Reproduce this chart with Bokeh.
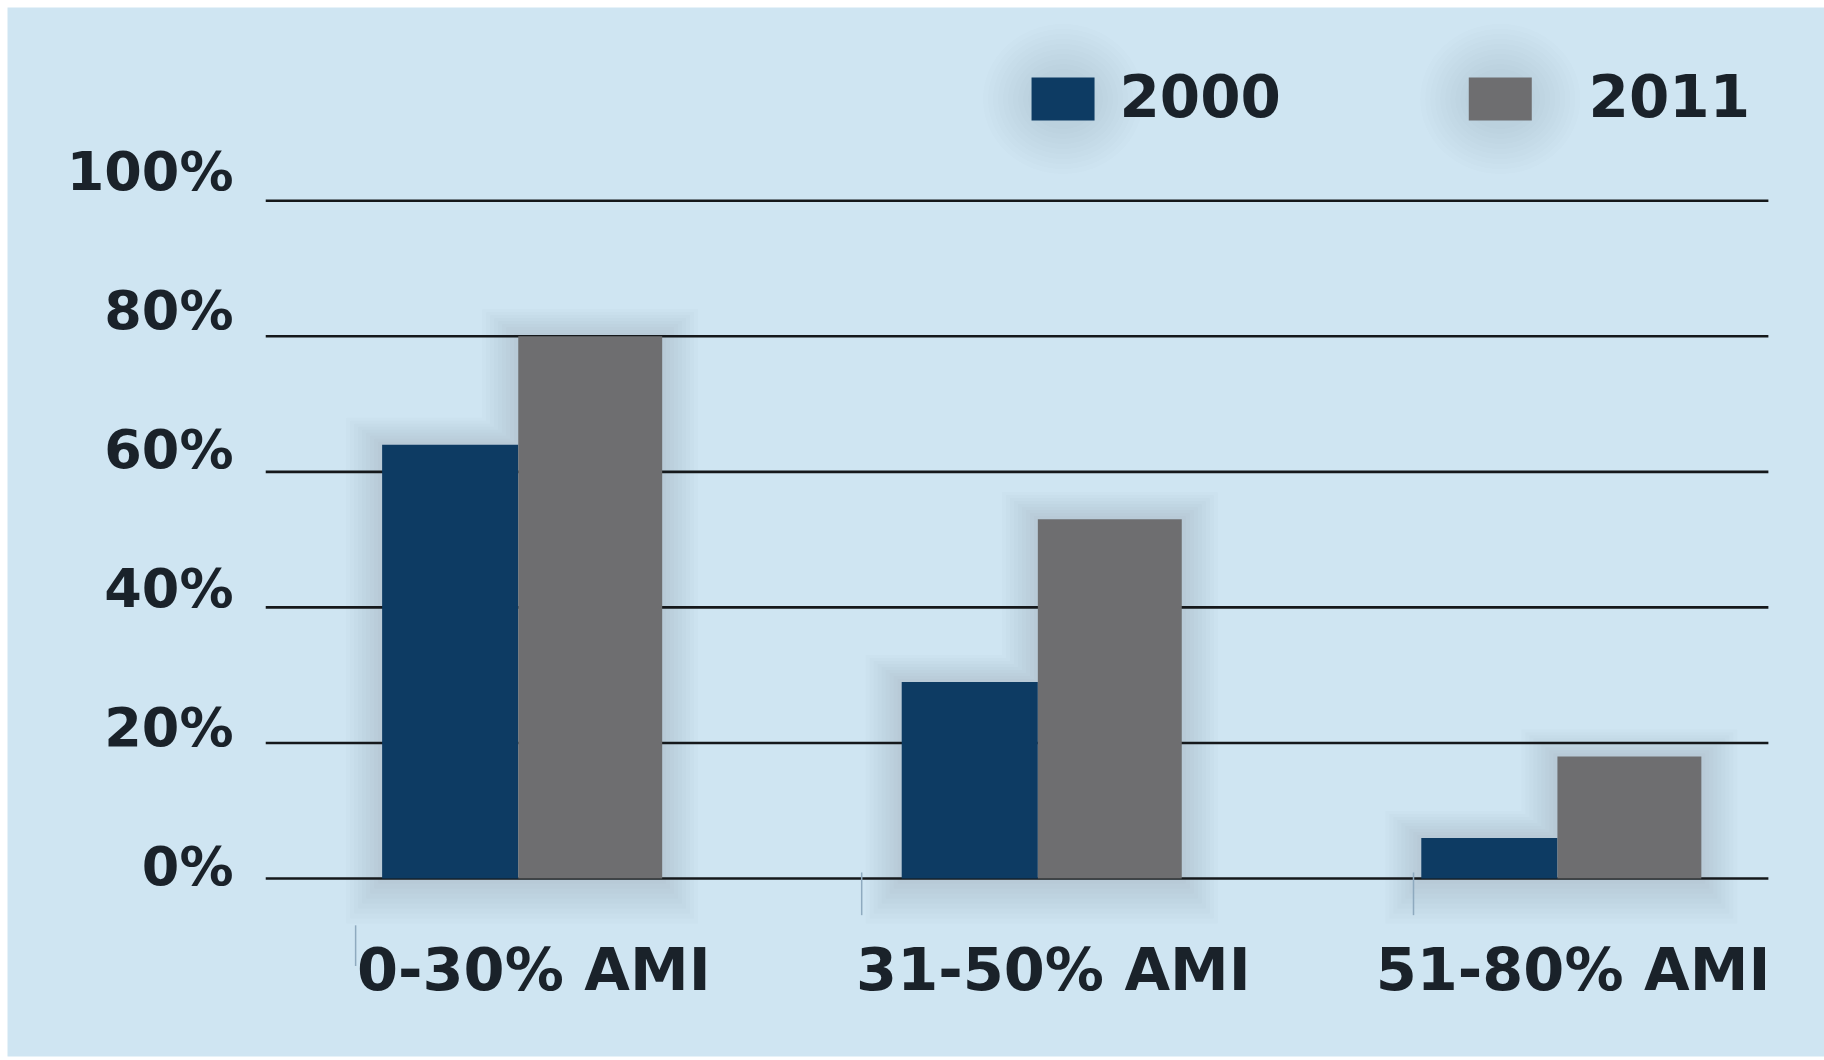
from bokeh.plotting import figure
from bokeh.models import Range1d
from bokeh.core.properties import value
from bokeh.embed import file_html
from bokeh.resources import INLINE

# ---- data ----
categories = ["0-30% AMI", "31-50% AMI", "51-80% AMI"]
share_2000 = [64, 29, 6]
share_2011 = [80, 53, 18]
series_names = ["2000", "2011"]
y_ticks = [0, 20, 40, 60, 80, 100]
y_tick_labels = ["0%", "20%", "40%", "60%", "80%", "100%"]

# ---- styling ----
BG = "#cfe5f2"
BLUE = "#0d3b63"
GRAY = "#6e6e70"
INK = "#1a222a"
FONT = value("DejaVu Sans")
SHADOW = "#46535e"

W, H = 1824, 1060
X0, X1 = -0.983, 2.514
Y0, Y1 = -26.25, 128.5
BL, BT, BR, BB = 7, 7, 0, 4
px_x = (X1 - X0) / (W - BL - BR)   # data units per pixel, x
px_y = (Y1 - Y0) / (H - BT - BB)   # data units per pixel, y

p = figure(width=W, height=H, x_range=Range1d(X0, X1), y_range=Range1d(Y0, Y1),
           output_backend="svg", toolbar_location=None,
           min_border_left=BL, min_border_top=BT, min_border_right=BR, min_border_bottom=BB,
           background_fill_color=BG, border_fill_color="white", outline_line_color=None)
p.axis.visible = False
p.grid.visible = False

idx = list(range(len(categories)))
w_a, w_b = 0.262, 0.277

# soft drop shadow hugging the stepped outline of each bar pair
for k in range(1, 10):
    dx, dt, db = k * 4 * px_x, k * 3 * px_y, k * 5 * px_y
    xs, ys = [], []
    for i in idx:
        l, s, r = i - w_a, i, i + w_b
        a, b = share_2000[i], share_2011[i]
        xs.append([l - dx, l - dx, s - dx, s - dx, r + dx, r + dx])
        ys.append([-db, a + dt, a + dt, b + dt, b + dt, -db])
    p.patches(xs=xs, ys=ys, fill_color=SHADOW, fill_alpha=0.014, line_color=None)

# horizontal rules
p.segment(x0=[-0.486] * len(y_ticks), x1=[2.406] * len(y_ticks), y0=y_ticks, y1=y_ticks,
          line_color="#15181b", line_width=2.6)

# bars
p.vbar(x=[i - w_a / 2 for i in idx], top=share_2000, width=w_a, bottom=0,
       fill_color=BLUE, line_color=None)
p.vbar(x=[i + w_b / 2 for i in idx], top=share_2011, width=w_b, bottom=0,
       fill_color=GRAY, line_color=None)

# faint category ticks below the baseline
tick_x = [-0.313, 0.661, 1.723]
tick_y0 = [-6.9, 0.9, 0.9]
tick_y1 = [-12.9, -5.4, -5.4]
p.segment(x0=tick_x, x1=tick_x, y0=tick_y0, y1=tick_y1, line_color="#8eaabf", line_width=1.5)

# y tick labels, sitting above their rules
p.text(x=[-0.548] * len(y_ticks), y=y_ticks, text=y_tick_labels,
       y_offset=[-(12.5 + 0.17 * t) for t in y_ticks],
       text_align="right", text_baseline="middle", text_font=FONT, text_font_style="bold",
       text_font_size="54px", text_color=INK)

# category labels
p.text(x=[i + 0.03 for i in idx], y=[0] * 3, text=categories, y_offset=91,
       text_align="center", text_baseline="middle", text_font=FONT, text_font_style="bold",
       text_font_size="59px", text_color=INK)

# legend
leg_y = 115
leg_sq_x = [1.0485, 1.890]
leg_txt_x = [1.157, 2.060]
for k in range(1, 11):
    p.ellipse(x=leg_sq_x, y=[leg_y] * 2, width=60 + k * 10, height=50 + k * 10,
              width_units="screen", height_units="screen",
              fill_color=SHADOW, fill_alpha=0.012, line_color=None)
p.rect(x=leg_sq_x, y=[leg_y] * 2, width=63, height=43, width_units="screen",
       height_units="screen", fill_color=[BLUE, GRAY], line_color=None)
p.text(x=leg_txt_x, y=[leg_y] * 2, text=series_names, y_offset=-4, text_align="left",
       text_baseline="middle", text_font=FONT, text_font_style="bold",
       text_font_size="58px", text_color=INK)

open("out.html", "w").write(file_html(p, INLINE))
